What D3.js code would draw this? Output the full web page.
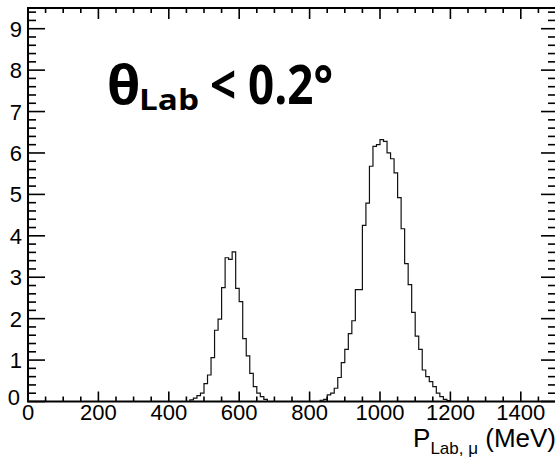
<!DOCTYPE html>
<html>
<head>
<meta charset="utf-8">
<script src="https://cdn.jsdelivr.net/npm/d3@7"></script>
<style>
  body { margin: 0; background: #fff; }
  svg { display: block; }
</style>
</head>
<body>
<div id="chart"></div>
<script>
var width = 555;
var height = 457;
var margin = ({ top: 8, right: -1, bottom: 55.5, left: 28 });

// histogram: 10 MeV bins, only the non-empty stretches are listed
var binWidth = 10;
var xRange = [0, 1500];
var yRange = [0, 9.5];
var lowPeakFrom = 460;
var lowPeakCounts = [0.04, 0.08, 0.14, 0.2, 0.43, 0.64, 1.06, 1.72, 1.99, 2.75, 3.47,
    3.43, 3.61, 2.73, 2.41, 1.52, 1.10, 0.68, 0.36, 0.20, 0.12, 0.05];
var highPeakFrom = 830;
var highPeakCounts = [0.03, 0.05, 0.16, 0.2, 0.32, 0.58, 0.94, 1.26, 1.64, 1.95, 2.70,
    2.70, 4.25, 4.79, 5.68, 6.16, 6.20, 6.32, 6.28, 6.00, 5.86, 5.52, 4.92, 4.17, 3.33,
    2.82, 2.15, 1.58, 1.26, 0.76, 0.60, 0.48, 0.36, 0.20, 0.12, 0.05, 0.02];

var xTickLabels = [0, 200, 400, 600, 800, 1000, 1200, 1400];
var yTickLabels = [0, 1, 2, 3, 4, 5, 6, 7, 8, 9];

// fill the whole range with bins (empty bins stay at 0)
var bins = d3.range(xRange[0], xRange[1], binWidth).map(function (lo) {
    return { lo: lo, value: 0 };
});
lowPeakCounts.forEach(function (v, i) { bins[(lowPeakFrom - xRange[0]) / binWidth + i].value = v; });
highPeakCounts.forEach(function (v, i) { bins[(highPeakFrom - xRange[0]) / binWidth + i].value = v; });

var x = d3.scaleLinear()
    .domain(xRange)
    .range([margin.left, width - margin.right]);

var y = d3.scaleLinear()
    .domain(yRange)
    .range([height - margin.bottom, margin.top]);

var svg = d3.select('#chart')
    .append('svg')
    .attr('width', width)
    .attr('height', height);

var x0 = x(xRange[0]), x1 = x(xRange[1]);
var y0 = y(yRange[0]), y1 = y(yRange[1]);

// histogram as a step line
svg.append("clipPath").attr("id", "frame-clip")
    .append("rect")
    .attr("x", x0).attr("y", y1)
    .attr("width", x1 - x0).attr("height", y0 - y1);

var stepPoints = bins.map(d => [d.lo, d.value]);
stepPoints.push([xRange[1], bins[bins.length - 1].value]);

var line = d3.line()
    .x(d => x(d[0]))
    .y(d => y(d[1]))
    .curve(d3.curveStepAfter);

svg.append("path")
    .datum(stepPoints)
    .attr("clip-path", "url(#frame-clip)")
    .attr("fill", "none")
    .attr("stroke", "#111")
    .attr("stroke-width", 1.2)
    .attr("d", line);

// ticks on all four sides (ROOT style: pointing inwards)
var xMinor = d3.range(xRange[0], xRange[1] + 1, 50);
var yMinor = d3.range(yRange[0], yRange[1] + 0.01, 0.2).map(v => +v.toFixed(1));
var ticks = svg.append("g").attr("stroke", "#000").attr("stroke-width", 1.6);

xMinor.forEach(function (v) {
    var major = v % 200 === 0;
    ticks.append("line")
        .attr("x1", x(v)).attr("x2", x(v))
        .attr("y1", y0).attr("y2", y0 - (major ? 10 : 5));
    ticks.append("line")
        .attr("x1", x(v)).attr("x2", x(v))
        .attr("y1", y1).attr("y2", y1 + (major ? 11 : 5));
});
yMinor.forEach(function (v) {
    var major = Math.abs(v - Math.round(v)) < 1e-6;
    ticks.append("line")
        .attr("x1", x0).attr("x2", x0 + (major ? 17 : 8))
        .attr("y1", y(v)).attr("y2", y(v));
    ticks.append("line")
        .attr("x1", x1).attr("x2", x1 - (major ? 15 : 8))
        .attr("y1", y(v)).attr("y2", y(v));
});

// frame
svg.append("rect")
    .attr("x", x0).attr("y", y1)
    .attr("width", x1 - x0).attr("height", y0 - y1)
    .attr("fill", "none")
    .attr("stroke", "#000")
    .attr("stroke-width", 2);

// tick labels
var labelFont = "'Liberation Sans', Arial, Helvetica, sans-serif";
svg.append("g")
    .selectAll("text")
    .data(xTickLabels)
    .enter()
    .append("text")
    .attr("x", d => x(d))
    .attr("y", y0 + 18.5)
    .attr("text-anchor", "middle")
    .style("font-family", labelFont)
    .style("font-size", "22px")
    .text(d => d);

svg.append("g")
    .selectAll("text")
    .data(yTickLabels)
    .enter()
    .append("text")
    .attr("x", d => d === 0 ? 20 : 22)
    .attr("y", d => y(d) + (d === 0 ? 3 : 8))
    .attr("text-anchor", "end")
    .style("font-family", labelFont)
    .style("font-size", "22px")
    .text(d => d);

// axis title
var xTitle = svg.append("text")
    .attr("x", 556)
    .attr("y", 447)
    .attr("text-anchor", "end")
    .style("font-family", labelFont)
    .style("font-size", "26px");
xTitle.append("tspan").text("P");
xTitle.append("tspan").attr("dy", 7).style("font-size", "17px").text("Lab, \u03bc");
xTitle.append("tspan").attr("dy", -7).text(" (MeV)");

// cut annotation (Calibri-like bold, squeezed to the measured widths)
var noteFont = "'Open Sans', 'Noto Sans', sans-serif";
var note = svg.append("g")
    .style("font-family", noteFont)
    .style("font-weight", "bold");
note.append("text")
    .attr("x", 107).attr("y", 104)
    .style("font-size", "54px")
    .text("\u03b8");
note.append("text")
    .attr("x", 139).attr("y", 110)
    .style("font-size", "29px")
    .attr("textLength", 60)
    .attr("lengthAdjust", "spacingAndGlyphs")
    .text("Lab");
note.append("text")
    .attr("x", 210).attr("y", 104)
    .style("font-size", "54px")
    .attr("textLength", 123)
    .attr("lengthAdjust", "spacingAndGlyphs")
    .text("< 0.2\u00b0");
</script>
</body>
</html>
